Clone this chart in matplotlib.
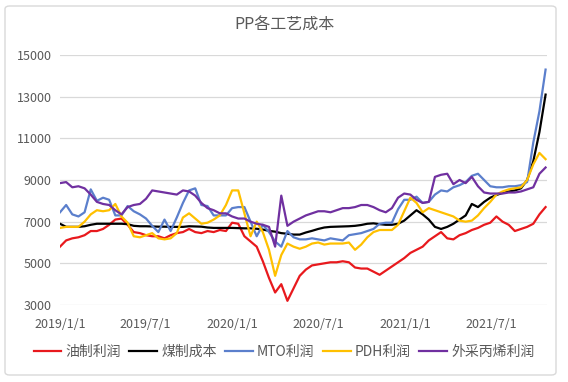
import matplotlib
matplotlib.use("Agg")
import matplotlib.pyplot as plt
import matplotlib.dates as mdates
from matplotlib.patches import FancyBboxPatch
import numpy as np
import pandas as pd

plt.rcParams['font.family'] = ['Noto Sans CJK SC', 'DejaVu Sans']

# sampled roughly every 13 days from 2019/1/1
dates = pd.date_range('2019-01-01', periods=80, freq='13D')

oil = [5800, 6100, 6200, 6250, 6350, 6550, 6550, 6650, 6850, 7100,
       7150, 6850, 6500, 6450, 6350, 6300, 6300, 6200, 6350, 6450,
       6500, 6650, 6500, 6450, 6550, 6500, 6600, 6550, 6950, 6900,
       6300, 6050, 5800, 5100, 4300, 3600, 4000, 3200, 3800, 4400,
       4700, 4900, 4950, 5000, 5050, 5050, 5100, 5050, 4800, 4750,
       4750, 4600, 4450, 4650, 4850, 5050, 5250, 5500, 5650, 5800,
       6100, 6300, 6500, 6200, 6150, 6350, 6450, 6600, 6700, 6850,
       6950, 7250, 7000, 6850, 6550, 6650, 6750, 6900, 7350, 7700]

coal = [6900, 6750, 6750, 6750, 6780, 6850, 6900, 6900, 6900, 6900,
        6900, 6880, 6800, 6780, 6780, 6770, 6760, 6760, 6750, 6750,
        6750, 6780, 6770, 6760, 6720, 6700, 6700, 6700, 6700, 6690,
        6680, 6680, 6660, 6620, 6560, 6520, 6450, 6420, 6380, 6380,
        6480, 6560, 6650, 6720, 6750, 6760, 6770, 6780, 6800, 6840,
        6900, 6920, 6880, 6850, 6850, 6900, 7050, 7300, 7550, 7350,
        7100, 6750, 6650, 6750, 6900, 7100, 7300, 7850, 7700, 7950,
        8150, 8280, 8380, 8450, 8500, 8600, 9000, 9900, 11300, 13100]

mto = [7450, 7800, 7350, 7250, 7450, 8550, 8000, 8150, 8050, 7300,
       7300, 7750, 7500, 7350, 7150, 6800, 6500, 7100, 6550, 7200,
       7900, 8500, 8600, 7800, 7750, 7300, 7300, 7300, 7650, 7700,
       7700, 7000, 6300, 6850, 6500, 6050, 5800, 6550, 6250, 6150,
       6150, 6200, 6150, 6100, 6200, 6150, 6100, 6350, 6400, 6450,
       6550, 6650, 6900, 6950, 6950, 7600, 8050, 8050, 8200, 7900,
       7950, 8300, 8500, 8450, 8650, 8750, 8900, 9200, 9300, 9000,
       8700, 8650, 8650, 8700, 8700, 8750, 8900, 10800, 12300, 14300]

pdh = [6700, 6750, 6750, 6750, 7000, 7350, 7550, 7500, 7550, 7850,
       7250, 6950, 6300, 6250, 6350, 6450, 6200, 6150, 6200, 6450,
       7200, 7400, 7150, 6900, 6950, 7100, 7300, 7800, 8500, 8500,
       7400, 6300, 7000, 6500, 5650, 4400, 5400, 5950, 5800, 5700,
       5800, 5950, 6000, 5900, 5950, 5950, 5950, 6000, 5650, 5900,
       6250, 6500, 6600, 6600, 6600, 6850, 7500, 8150, 7900, 7450,
       7650, 7550, 7450, 7350, 7250, 7050, 7000, 7050, 7300, 7650,
       7950, 8300, 8450, 8550, 8600, 8650, 9000, 9750, 10300, 10000]

propylene = [8850, 8900, 8650, 8700, 8600, 8300, 7950, 7850, 7800, 7550,
             7350, 7700, 7800, 7850, 8100, 8500, 8450, 8400, 8350, 8300,
             8500, 8450, 8250, 7900, 7650, 7550, 7400, 7400, 7250, 7150,
             7150, 7000, 6900, 6850, 6750, 5800, 8250, 6800, 7000, 7150,
             7300, 7400, 7500, 7500, 7450, 7550, 7650, 7650, 7700, 7800,
             7800, 7700, 7550, 7450, 7650, 8150, 8350, 8300, 8050, 7900,
             7950, 9150, 9250, 9300, 8800, 9000, 8850, 9150, 8700, 8400,
             8350, 8350, 8350, 8400, 8400, 8450, 8550, 8650, 9300, 9600]

names = ['油制利润', '煤制成本', 'MTO利润', 'PDH利润', '外采丙烯利润']
colors = ['#E8191D', '#000000', '#5B7FCC', '#FFC000', '#7030A0']
series = [oil, coal, mto, pdh, propylene]

tick_dates = pd.to_datetime(['2019-01-01', '2019-07-01', '2020-01-01',
                             '2020-07-01', '2021-01-01', '2021-07-01'])
tick_text = ['2019/1/1', '2019/7/1', '2020/1/1', '2020/7/1', '2021/1/1', '2021/7/1']

fig = plt.figure(figsize=(5.68, 3.82), dpi=100)
ax = fig.add_axes([60 / 568, 1 - 305 / 382, 487 / 568, 250 / 382])

for name, vals, c in zip(names, series, colors):
    ax.plot(dates, vals, color=c, lw=1.6, label=name)

ax.set_ylim(3000, 15000)
ax.set_yticks(np.arange(3000, 15001, 2000))
ax.set_xlim(pd.Timestamp('2019-01-01'), pd.Timestamp('2019-01-01') + pd.Timedelta(days=1030))
ax.set_xticks(tick_dates)
ax.set_xticklabels(tick_text)
ax.grid(axis='y', color='#D9D9D9', lw=0.9)
ax.set_axisbelow(True)
for s in ax.spines.values():
    s.set_visible(False)
ax.tick_params(length=0, colors='#595959', labelsize=9)
ax.tick_params(axis='y', pad=6)
ax.tick_params(axis='x', pad=9)

fig.text(0.5, 1 - 25 / 382, 'PP各工艺成本', ha='center', va='center',
         fontsize=11.5, color='#595959')

leg = fig.legend(loc='center', bbox_to_anchor=(0.5, 1 - 352 / 382), ncol=5,
                 frameon=False, fontsize=10, handlelength=2.0,
                 columnspacing=0.6, handletextpad=0.3, labelcolor='#595959')

border = FancyBboxPatch((5 / 568, 7 / 382), 551 / 568, 369 / 382,
                        boxstyle='round,pad=0,rounding_size=0.008',
                        transform=fig.transFigure, fill=False,
                        edgecolor='#D9D9D9', lw=1.0)
fig.patches.append(border)

fig.savefig('out.png', dpi=100)
